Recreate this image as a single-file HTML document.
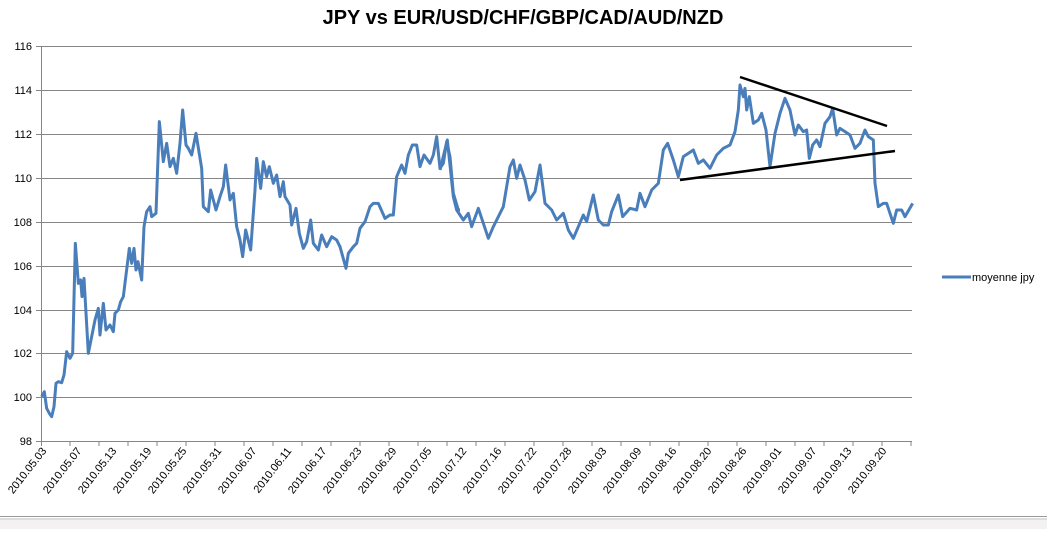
<!DOCTYPE html>
<html><head><meta charset="utf-8"><style>
body{margin:0;background:#fff;width:1047px;height:529px;overflow:hidden;font-family:"Liberation Sans",sans-serif}
</style></head><body>
<svg width="1047" height="529" xmlns="http://www.w3.org/2000/svg" font-family="Liberation Sans, sans-serif">
<text x="523" y="24" text-anchor="middle" font-size="20" font-weight="bold">JPY vs EUR/USD/CHF/GBP/CAD/AUD/NZD</text>
<g stroke="#868686" stroke-width="1">
<line x1="41" y1="46.5" x2="912" y2="46.5"/><line x1="41" y1="90.5" x2="912" y2="90.5"/>
<line x1="41" y1="134.5" x2="912" y2="134.5"/><line x1="41" y1="178.5" x2="912" y2="178.5"/>
<line x1="41" y1="222.5" x2="912" y2="222.5"/><line x1="41" y1="266.5" x2="912" y2="266.5"/>
<line x1="41" y1="310.5" x2="912" y2="310.5"/><line x1="41" y1="353.5" x2="912" y2="353.5"/>
<line x1="41" y1="397.5" x2="912" y2="397.5"/><line x1="36" y1="441.5" x2="912" y2="441.5"/>
<line x1="41.5" y1="46" x2="41.5" y2="446"/>
<line x1="36" y1="46.5" x2="41" y2="46.5"/><line x1="36" y1="90.5" x2="41" y2="90.5"/><line x1="36" y1="134.5" x2="41" y2="134.5"/><line x1="36" y1="178.5" x2="41" y2="178.5"/><line x1="36" y1="222.5" x2="41" y2="222.5"/><line x1="36" y1="266.5" x2="41" y2="266.5"/><line x1="36" y1="310.5" x2="41" y2="310.5"/><line x1="36" y1="353.5" x2="41" y2="353.5"/><line x1="36" y1="397.5" x2="41" y2="397.5"/>
</g>
<g stroke="#868686" stroke-width="1" id="ticks">
<line x1="70" y1="441" x2="70" y2="446"/><line x1="99" y1="441" x2="99" y2="446"/><line x1="128" y1="441" x2="128" y2="446"/><line x1="157" y1="441" x2="157" y2="446"/><line x1="186" y1="441" x2="186" y2="446"/><line x1="215" y1="441" x2="215" y2="446"/><line x1="244" y1="441" x2="244" y2="446"/><line x1="273" y1="441" x2="273" y2="446"/><line x1="302" y1="441" x2="302" y2="446"/><line x1="331" y1="441" x2="331" y2="446"/><line x1="360" y1="441" x2="360" y2="446"/><line x1="389" y1="441" x2="389" y2="446"/><line x1="418" y1="441" x2="418" y2="446"/><line x1="447" y1="441" x2="447" y2="446"/><line x1="476" y1="441" x2="476" y2="446"/><line x1="505" y1="441" x2="505" y2="446"/><line x1="534" y1="441" x2="534" y2="446"/><line x1="563" y1="441" x2="563" y2="446"/><line x1="592" y1="441" x2="592" y2="446"/><line x1="621" y1="441" x2="621" y2="446"/><line x1="650" y1="441" x2="650" y2="446"/><line x1="679" y1="441" x2="679" y2="446"/><line x1="708" y1="441" x2="708" y2="446"/><line x1="737" y1="441" x2="737" y2="446"/><line x1="766" y1="441" x2="766" y2="446"/><line x1="795" y1="441" x2="795" y2="446"/><line x1="824" y1="441" x2="824" y2="446"/><line x1="853" y1="441" x2="853" y2="446"/><line x1="882" y1="441" x2="882" y2="446"/><line x1="911" y1="441" x2="911" y2="446"/>
</g>
<g font-size="11" text-anchor="end" fill="#000">
<text x="32" y="50">116</text><text x="32" y="94">114</text><text x="32" y="138">112</text><text x="32" y="182">110</text><text x="32" y="226">108</text><text x="32" y="270">106</text><text x="32" y="314">104</text><text x="32" y="357">102</text><text x="32" y="401">100</text><text x="32" y="445">98</text>
</g>
<g font-size="11" text-anchor="end" fill="#000">
<text transform="translate(47,451) rotate(-52)">2010.05.03</text>
<text transform="translate(82,451) rotate(-52)">2010.05.07</text>
<text transform="translate(117,451) rotate(-52)">2010.05.13</text>
<text transform="translate(152,451) rotate(-52)">2010.05.19</text>
<text transform="translate(187,451) rotate(-52)">2010.05.25</text>
<text transform="translate(222,451) rotate(-52)">2010.05.31</text>
<text transform="translate(257,451) rotate(-52)">2010.06.07</text>
<text transform="translate(292,451) rotate(-52)">2010.06.11</text>
<text transform="translate(327,451) rotate(-52)">2010.06.17</text>
<text transform="translate(362,451) rotate(-52)">2010.06.23</text>
<text transform="translate(397,451) rotate(-52)">2010.06.29</text>
<text transform="translate(432,451) rotate(-52)">2010.07.05</text>
<text transform="translate(467,451) rotate(-52)">2010.07.12</text>
<text transform="translate(502,451) rotate(-52)">2010.07.16</text>
<text transform="translate(537,451) rotate(-52)">2010.07.22</text>
<text transform="translate(572,451) rotate(-52)">2010.07.28</text>
<text transform="translate(607,451) rotate(-52)">2010.08.03</text>
<text transform="translate(642,451) rotate(-52)">2010.08.09</text>
<text transform="translate(677,451) rotate(-52)">2010.08.16</text>
<text transform="translate(712,451) rotate(-52)">2010.08.20</text>
<text transform="translate(747,451) rotate(-52)">2010.08.26</text>
<text transform="translate(782,451) rotate(-52)">2010.09.01</text>
<text transform="translate(817,451) rotate(-52)">2010.09.07</text>
<text transform="translate(852,451) rotate(-52)">2010.09.13</text>
<text transform="translate(887,451) rotate(-52)">2010.09.20</text>
</g>
<g transform="translate(0,30) scale(0.33333)">
<polyline fill="none" stroke="#4a7ebb" stroke-width="9" stroke-linejoin="round" points="125,1100 133,1085 140,1135 148,1150 155,1160 162,1130 168,1060 175,1055 185,1058 192,1035 200,965 210,985 218,970 226,640 235,760 242,750 246,800 252,745 265,970 275,920 285,870 295,835 300,915 310,820 318,900 330,885 340,905 345,850 355,840 362,815 370,800 378,735 388,655 395,700 402,655 408,720 414,695 425,750 432,590 440,545 450,530 455,560 468,550 478,275 490,395 500,340 510,410 520,385 530,430 540,340 548,240 558,345 565,355 575,375 588,310 605,415 610,530 625,545 632,480 648,540 660,500 670,470 677,405 690,510 700,490 710,590 720,630 728,680 737,600 752,660 765,480 770,385 782,475 790,395 800,440 808,410 820,460 830,435 840,500 850,455 855,500 870,525 875,585 888,535 898,610 910,655 920,635 932,570 940,640 955,660 965,615 980,650 995,620 1010,630 1020,650 1038,715 1045,670 1060,650 1070,640 1080,595 1095,575 1110,530 1120,520 1135,520 1155,565 1170,555 1180,555 1190,440 1205,405 1215,430 1225,375 1237,345 1250,345 1260,410 1272,375 1290,400 1300,375 1310,320 1320,415 1330,400 1340,335 1350,380 1360,490 1375,540 1380,540"/>
</g>
<g transform="translate(440,60) scale(0.33333)">
<polyline fill="none" stroke="#4a7ebb" stroke-width="9" stroke-linejoin="round" points="0,330 22,240 40,410 50,450 70,480 85,460 95,500 115,445 130,490 145,535 160,500 175,470 190,440 210,320 220,300 230,355 240,315 255,360 268,420 285,395 300,315 315,430 335,450 350,480 370,460 385,510 400,535 415,500 430,465 440,485 460,405 475,480 490,495 505,495 515,455 535,405 548,470 570,445 590,450 600,400 615,440 635,390 655,370 670,270 683,250 700,300 715,350 730,290 745,280 760,270 775,310 790,300 810,325 830,285 850,265 870,255 885,215 895,150 900,75 910,110 915,85 920,150 928,110 940,190 955,180 965,160 978,210 990,320 1005,220 1020,160 1035,115 1050,150 1065,225 1075,195 1090,215 1100,210 1108,295 1118,255 1130,240 1140,260 1155,190 1170,170 1178,145 1190,225 1200,205 1215,215 1230,225 1245,265 1260,250 1275,210 1285,230 1300,240 1305,370 1315,440 1330,430 1340,430 1360,490 1370,450 1385,450 1395,470 1418,430"/>
</g>
<g stroke="#000" stroke-width="2.5">
<line x1="740" y1="77" x2="887" y2="126"/>
<line x1="680" y1="180" x2="895" y2="151"/>
</g>
<line x1="942" y1="277" x2="971" y2="277" stroke="#4a7ebb" stroke-width="3"/>
<text x="972" y="281" font-size="11">moyenne jpy</text>
<line x1="0" y1="516.5" x2="1047" y2="516.5" stroke="#999" stroke-width="1"/>
<line x1="0" y1="519" x2="1047" y2="519" stroke="#bbb" stroke-width="1"/>
<rect x="0" y="520" width="1047" height="9" fill="#f3f1f1"/>
</svg>
</body></html>
